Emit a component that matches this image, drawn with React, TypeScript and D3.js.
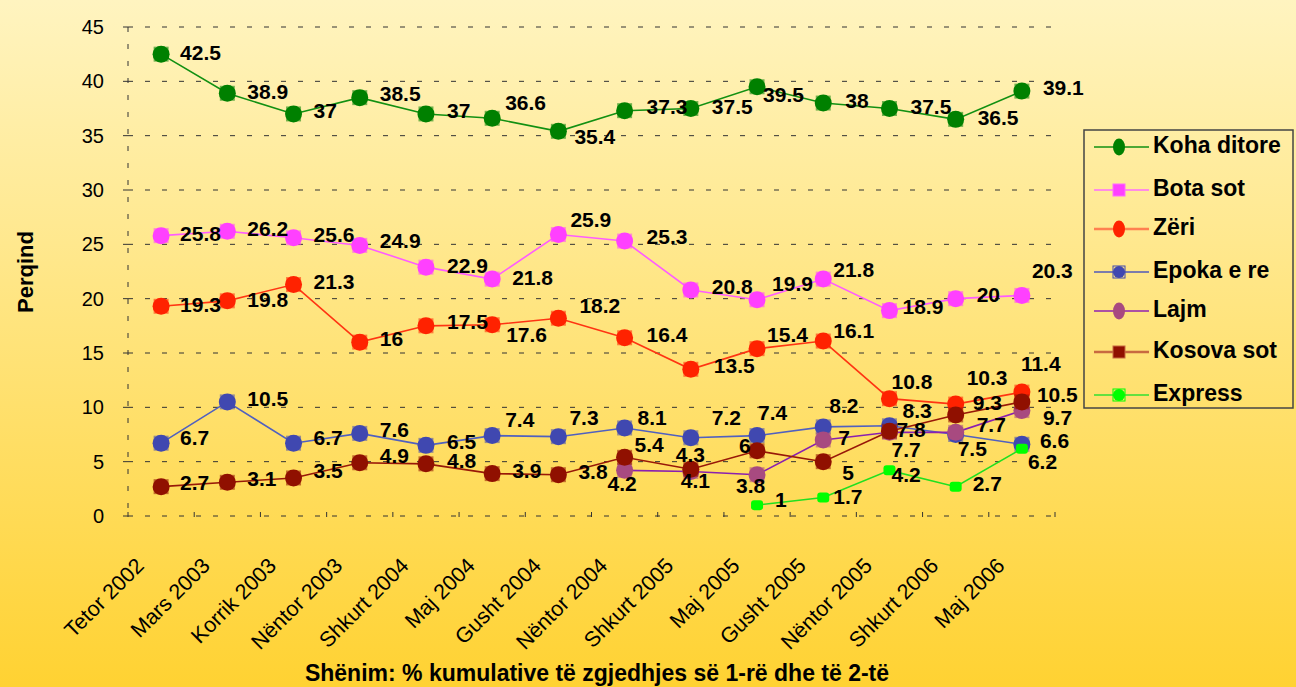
import React from "react";
import * as d3 from "d3";

const categories = [
  "Tetor 2002", "Mars 2003", "Korrik 2003", "Nëntor 2003", "Shkurt 2004", "Maj 2004", "Gusht 2004",
  "Nëntor 2004", "Shkurt 2005", "Maj 2005", "Gusht 2005", "Nëntor 2005", "Shkurt 2006", "Maj 2006",
];

const yTicks = [0, 5, 10, 15, 20, 25, 30, 35, 40, 45];

const kohaDitore = [42.5, 38.9, 37, 38.5, 37, 36.6, 35.4, 37.3, 37.5, 39.5, 38, 37.5, 36.5, 39.1];
const botaSot = [25.8, 26.2, 25.6, 24.9, 22.9, 21.8, 25.9, 25.3, 20.8, 19.9, 21.8, 18.9, 20, 20.3];
const zeri = [19.3, 19.8, 21.3, 16, 17.5, 17.6, 18.2, 16.4, 13.5, 15.4, 16.1, 10.8, 10.3, 11.4];
const epokaERe = [6.7, 10.5, 6.7, 7.6, 6.5, 7.4, 7.3, 8.1, 7.2, 7.4, 8.2, 8.3, 7.5, 6.6];
const lajm = [null, null, null, null, null, null, null, 4.2, 4.1, 3.8, 7, 7.7, 7.7, 9.7];
const kosovaSot = [2.7, 3.1, 3.5, 4.9, 4.8, 3.9, 3.8, 5.4, 4.3, 6, 5, 7.8, 9.3, 10.5];
const express = [null, null, null, null, null, null, null, null, null, 1, 1.7, 4.2, 2.7, 6.2];

// where each data label sits relative to its point (text start, baseline)
const kohaLabelPos = [[19, 6], [20, 6], [20, 4], [20, 3], [21, 4], [13, -8], [16, 13], [22, 3], [21, 5], [6, 15], [22, 5], [21, 5], [22, 6], [21, 4]];
const botaLabelPos = [[19, 5], [20, 5], [20, 4], [20, 3], [21, 6], [20, 6], [12, -8], [22, 3], [21, 4], [15, -9], [10, -2], [13, 3], [21, 3], [10, -17]];
const zeriLabelPos = [[19, 6], [20, 6], [20, 4], [20, 4], [21, 3], [14, 17], [21, -5], [22, 4], [23, 4], [10, -7], [10, -3], [2, -10], [11, -19], [-1, -21]];
const epokaLabelPos = [[19, 2], [20, 4], [20, 2], [20, 4], [21, 4], [13, -9], [11, -12], [13, -3], [21, -13], [1, -16], [6, -14], [13, -8], [2, 21], [18, 4]];
const lajmLabelPos = [null, null, null, null, null, null, null, [-17, 21], [-10, 17], [-21, 18], [15, 5], [2, 25], [21, 0], [21, 14]];
const kosovaLabelPos = [[19, 3], [20, 4], [20, 0], [20, 0], [21, 4], [20, 4], [20, 4], [10, -5], [-15, -7], [-18, 2], [19, 18], [7, 6], [17, -5], [15, 0]];
const expressLabelPos = [null, null, null, null, null, null, null, null, null, [18, 2], [10, 6], [2, 12], [17, 4], [6, 20]];

type Series = {
  name: string;
  values: (number | null)[];
  labelPos: (number[] | null)[];
  color: string;
  line: string;
  legendLine: string;
  marker: "circle" | "square";
  legendMarker: "ellipse" | "square" | "boxed";
};

const series: Series[] = [
  { name: "Koha ditore", values: kohaDitore, labelPos: kohaLabelPos, color: "#008000", line: "#129012", legendLine: "#129012", marker: "circle", legendMarker: "ellipse" },
  { name: "Bota sot", values: botaSot, labelPos: botaLabelPos, color: "#ff40ff", line: "#ff5cff", legendLine: "#ff6cff", marker: "circle", legendMarker: "square" },
  { name: "Zëri", values: zeri, labelPos: zeriLabelPos, color: "#ff2200", line: "#ff3412", legendLine: "#ff8050", marker: "circle", legendMarker: "ellipse" },
  { name: "Epoka e re", values: epokaERe, labelPos: epokaLabelPos, color: "#4048b0", line: "#5060c0", legendLine: "#5058b8", marker: "circle", legendMarker: "boxed" },
  { name: "Lajm", values: lajm, labelPos: lajmLabelPos, color: "#a84a80", line: "#8a20b0", legendLine: "#9020b0", marker: "circle", legendMarker: "ellipse" },
  { name: "Kosova sot", values: kosovaSot, labelPos: kosovaLabelPos, color: "#901000", line: "#981808", legendLine: "#c86a40", marker: "circle", legendMarker: "square" },
  { name: "Express", values: express, labelPos: expressLabelPos, color: "#00ff00", line: "#20e020", legendLine: "#30e030", marker: "square", legendMarker: "boxed" },
];

const W = 1296;
const H = 687;
const FONT = "'Liberation Sans', Arial, sans-serif";

export default function App() {
  const left = 128;
  const right = 1055;
  const top = 27;
  const bottom = 516;

  const x = d3.scalePoint<string>().domain(categories).range([left, right]).padding(0.5);
  const y = d3.scaleLinear().domain([0, 45]).range([bottom, top]);
  const step = x.step();

  const line = d3
    .line<number | null>()
    .defined((d) => d != null)
    .x((_, i) => x(categories[i]) as number)
    .y((d) => y(d as number));

  const legendX = 1084;
  const legendY = 130;
  const legendRows = [147, 190, 229, 272, 311, 352, 395];

  return (
    <div style={{ position: "absolute", left: 0, top: 0 }}>
      <svg width={W} height={H} style={{ display: "block", fontFamily: FONT }}>
        <defs>
          <linearGradient id="bg" x1="0" y1="0" x2="0" y2="1">
            <stop offset="0%" stopColor="#fff4c0" />
            <stop offset="100%" stopColor="#ffd232" />
          </linearGradient>
        </defs>
        <rect x={0} y={0} width={W} height={H} fill="url(#bg)" />

        {/* gridlines */}
        {yTicks.map((t) => (
          <g key={t}>
            <line x1={left} x2={right} y1={y(t)} y2={y(t)} stroke="#333" strokeWidth={1} strokeDasharray="5,12" />
            <line x1={left - 5} x2={left} y1={y(t)} y2={y(t)} stroke="#333" strokeWidth={1} />
            <text x={104} y={y(t) + 7} textAnchor="end" fontSize={20} fill="#000">
              {t}
            </text>
          </g>
        ))}
        <line x1={left} x2={left} y1={top} y2={bottom} stroke="#333" strokeWidth={1} strokeDasharray="5,12" />
        {d3.range(categories.length + 1).map((i) => (
          <line key={i} x1={left + step * i} x2={left + step * i} y1={bottom - 4} y2={bottom + 1} stroke="#333" strokeWidth={1} />
        ))}

        {/* x labels */}
        {categories.map((c) => {
          const ax = (x(c) as number) - 16;
          const ay = 567;
          return (
            <text key={c} x={ax} y={ay} textAnchor="end" fontSize={21.5} fill="#000" transform={`rotate(-45 ${ax} ${ay})`}>
              {c}
            </text>
          );
        })}

        {/* series lines and markers */}
        {series.map((s) => (
          <g key={s.name}>
            <path d={line(s.values) || ""} fill="none" stroke={s.line} strokeWidth={1.6} />
            {s.values.map((v, i) =>
              v == null ? null : s.marker === "circle" ? (
                <g key={i}>
                  <rect x={(x(categories[i]) as number) - 7.5} y={y(v) - 7.5} width={15} height={15} fill={s.color} opacity={0.55} />
                  <circle cx={x(categories[i]) as number} cy={y(v)} r={8.5} fill={s.color} />
                </g>
              ) : (
                <rect key={i} x={(x(categories[i]) as number) - 6} y={y(v) - 5} width={12} height={10} rx={3} fill={s.color} />
              )
            )}
          </g>
        ))}

        {/* data labels */}
        {series.map((s) =>
          s.values.map((v, i) => {
            const p = s.labelPos[i];
            if (v == null || !p) return null;
            return (
              <text key={s.name + i} x={(x(categories[i]) as number) + p[0]} y={y(v) + p[1]} fontSize={21} fontWeight="bold" fill="#000">
                {v}
              </text>
            );
          })
        )}

        {/* axis titles */}
        <text transform="translate(33,272) rotate(-90)" textAnchor="middle" fontSize={22} fontWeight="bold" fill="#000">
          Perqind
        </text>
        <text x={597} y={681} textAnchor="middle" fontSize={23} fontWeight="bold" fill="#000">
          Shënim: % kumulative të zgjedhjes së 1-rë dhe të 2-të
        </text>

        {/* legend */}
        <rect x={legendX} y={legendY} width={209} height={278} fill="none" stroke="#444" strokeWidth={1.5} />
        {series.map((s, i) => {
          const ry = legendRows[i];
          const mx = 1119;
          let marker;
          if (s.legendMarker === "ellipse") {
            marker = <ellipse cx={mx} cy={ry} rx={6} ry={8.5} fill={s.color} />;
          } else if (s.legendMarker === "square") {
            marker = <rect x={mx - 6} y={ry - 6} width={12} height={12} fill={s.color} stroke={s.legendLine} strokeWidth={1} />;
          } else {
            marker = (
              <g>
                <rect x={mx - 6} y={ry - 6} width={12} height={12} fill="none" stroke={s.color} strokeWidth={1} />
                <circle cx={mx} cy={ry} r={6} fill={s.color} />
              </g>
            );
          }
          return (
            <g key={s.name}>
              <line x1={1094} x2={1149} y1={ry} y2={ry} stroke={s.legendLine} strokeWidth={i === 2 || i === 5 ? 2.5 : 1.5} />
              {marker}
              <text x={1153} y={ry + 6} fontSize={23} fontWeight="bold" fill="#000">
                {s.name}
              </text>
            </g>
          );
        })}
      </svg>
    </div>
  );
}
